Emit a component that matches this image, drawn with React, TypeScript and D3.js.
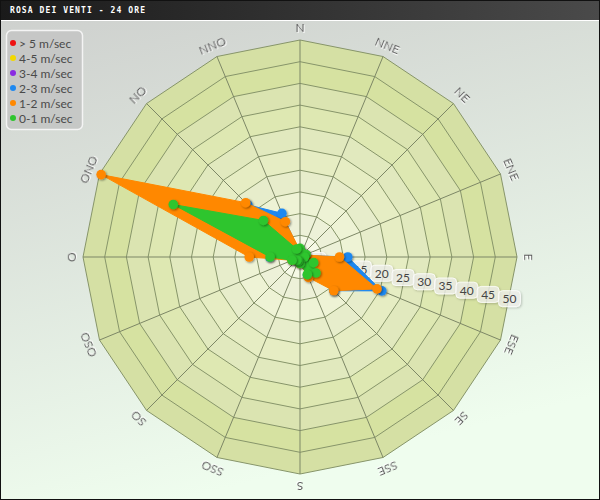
import React from "react";
import * as d3 from "d3";

const directions = ["N","NNE","NE","ENE","E","ESE","SE","SSE","S","SSO","SO","OSO","O","ONO","NO","NNO"];
const ringTicks = [5,10,15,20,25,30,35,40,45,50];
const seriesNames = ["> 5 m/sec","4-5 m/sec","3-4 m/sec","2-3 m/sec","1-2 m/sec","0-1 m/sec"];
const seriesColors = ["#ee1111","#f2d800","#8a2be2","#1e88f0","#ff8800","#2ec52e"];
const over5 = [0,0,0,0,0,0,0,0,0,0,0,0,0,0,0,0];
const s4to5 = [0,0,0,0,0,0,0,0,0,0,0,0,0,0,0,0];
const s3to4 = [0,0,0,0,0,0,0,0,0,0,0,0,0,0,0,0];
const s2to3 = [1,0.5,0.5,1,11,20.4,11,4.5,1,0.5,0.5,1,7,35,17,10.9];
const s1to2 = [1.5,0.8,0.8,1.2,9.1,19.2,11,5.1,1.5,1,1,2,11.7,49.6,17.7,8.8];
const s0to1 = [2,1,1,1.5,1,3.4,5.2,4.4,1.5,1,1,2,6.9,31.6,11.9,2];
const seriesValues = [over5, s4to5, s3to4, s2to3, s1to2, s0to1];
const title = "ROSA DEI VENTI - 24 ORE";

const W = 600, H = 500;
const cx = 300, cy = 257, R = 217;
const FONT = "Lato, 'Open Sans', sans-serif";

export default function App() {
  const r = d3.scaleLinear().domain([0, 50]).range([0, R]);
  const ang = d3.scaleLinear().domain([0, directions.length]).range([0, 2 * Math.PI]);
  const pt = (i: number, v: number): [number, number] => {
    const a = ang(i);
    return [cx + r(v) * Math.sin(a), cy - r(v) * Math.cos(a)];
  };
  const poly = (v: number) => directions.map((_, i) => pt(i, v).join(",")).join(" ");
  const line = d3.line<[number, number]>().curve(d3.curveLinearClosed);
  const bandColor = d3.interpolateRgb("#f6f9e6", "#d2df98");

  const bands = ringTicks.slice().reverse();
  const labelAngle = ang(4.5);
  return (
    <svg width={W} height={H} style={{ position: "absolute", left: 0, top: 0 }} fontFamily={FONT}>
      <defs>
        <linearGradient id="bg" x1="0" y1="0" x2="0.3" y2="1">
          <stop offset="0" stopColor="#cdcfcd" />
          <stop offset="1" stopColor="#effdee" />
        </linearGradient>
        <linearGradient id="tb" x1="0" y1="0" x2="1" y2="0">
          <stop offset="0" stopColor="#1a1a1a" />
          <stop offset="1" stopColor="#4a4a4a" />
        </linearGradient>
        <filter id="sh" x="-50%" y="-50%" width="200%" height="200%">
          <feDropShadow dx="1" dy="1" stdDeviation="0.8" floodColor="#000" floodOpacity="0.45" />
        </filter>
        <filter id="tsh" x="-50%" y="-50%" width="200%" height="200%">
          <feDropShadow dx="1" dy="1" stdDeviation="0.6" floodColor="#fff" floodOpacity="0.9" />
        </filter>
        <filter id="bsh" x="-50%" y="-50%" width="200%" height="200%">
          <feDropShadow dx="1" dy="1" stdDeviation="1" floodColor="#000" floodOpacity="0.25" />
        </filter>
      </defs>
      <rect x={0} y={0} width={W} height={H} fill="url(#bg)" />
      <rect x={0} y={0} width={W} height={20} fill="url(#tb)" />
      <line x1={0} x2={W} y1={20.5} y2={20.5} stroke="#fff" strokeWidth={1} />
      <text x={10} y={13} fill="#fff" fontSize={8} fontWeight="bold" letterSpacing={1.1}
        fontFamily="'DejaVu Sans Mono', monospace">{title}</text>

      {bands.map((t) => {
        const i = ringTicks.indexOf(t);
        const base = d3.color(bandColor(i / 9))!;
        const c = i % 2 === 1 ? d3.interpolateRgb(base.formatHex(), "#dde2c8")(0.25) : base.formatHex();
        return <polygon key={t} points={poly(t)} fill={c} stroke="#87956a" strokeWidth={1} />;
      })}
      {directions.map((d, i) => {
        const [x, y] = pt(i, 50);
        return <line key={d} x1={cx} y1={cy} x2={x} y2={y} stroke="#7d8766" strokeWidth={1} />;
      })}
      {directions.map((d, i) => {
        const a = (ang(i) * 180) / Math.PI;
        const [x, y] = pt(i, 52.8);
        return (
          <text key={d} x={x} y={y} transform={`rotate(${a},${x},${y})`} textAnchor="middle"
            dominantBaseline="central" fontSize={12} fill="#5a5a5a" filter="url(#tsh)">{d}</text>
        );
      })}
      {ringTicks.map((t) => {
        const rr = r(t) - 3.5;
        const x = cx + rr * Math.sin(labelAngle);
        const y = cy - rr * Math.cos(labelAngle);
        const w = t < 10 ? 16 : 22;
        return (
          <g key={t}>
            <rect x={x - w / 2} y={y - 8} width={w} height={16} rx={4} fill="#f2f2ee" fillOpacity={0.75}
              stroke="#fff" strokeOpacity={0.8} filter="url(#bsh)" />
            <text x={x} y={y} textAnchor="middle" dominantBaseline="central" fontSize={12} fill="#444">{t}</text>
          </g>
        );
      })}

      {seriesValues.map((vals, s) => {
        const pts = vals.map((v, i) => pt(i, v));
        const allZero = vals.every((v) => v === 0);
        return (
          <g key={s}>
            {!allZero && (
              <path d={line(pts) ?? ""} fill={seriesColors[s]} stroke={seriesColors[s]} strokeWidth={1} />
            )}
            {pts.map(([x, y], i) => (
              <circle key={i} cx={x} cy={y} r={4.8} fill={seriesColors[s]} filter="url(#sh)" />
            ))}
          </g>
        );
      })}

      <rect x={6.5} y={30.5} width={76} height={99} rx={5} fill="#c4c5c4" fillOpacity={0.9} stroke="#f4f4f4" strokeWidth={1.5} />
      {seriesNames.map((n, i) => (
        <g key={n} transform={`translate(0,${43 + i * 15})`}>
          <circle cx={13} cy={0} r={3} fill={seriesColors[i]} />
          <text x={19} y={0} dominantBaseline="central" fontSize={12} fill="#4a4a4a">{n}</text>
        </g>
      ))}
      <rect x={0.5} y={0.5} width={W - 1} height={H - 1} fill="none" stroke="#111" strokeWidth={1} />
    </svg>
  );
}
